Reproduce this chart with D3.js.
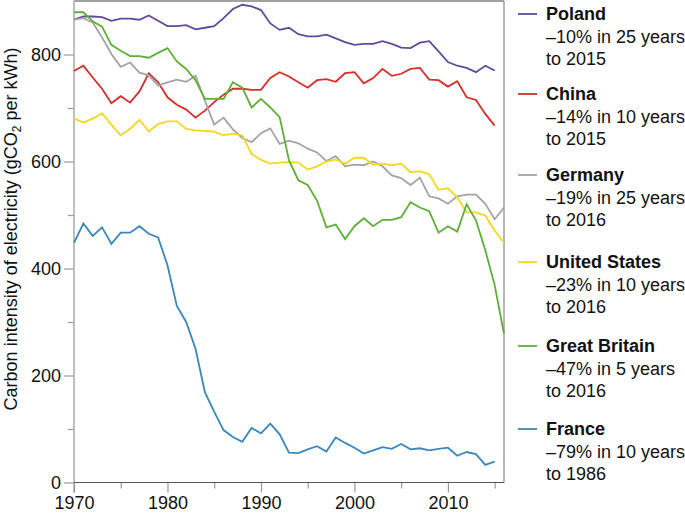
<!DOCTYPE html>
<html>
<head>
<meta charset="utf-8">
<script src="https://cdn.jsdelivr.net/npm/d3@7"></script>
<style>
  html, body { margin: 0; padding: 0; background: #fff; }
  svg { display: block; font-family: "Liberation Sans", Arial, Helvetica, sans-serif; }
</style>
</head>
<body>
<div id="chart"></div>
<script>
'use strict';

// years 1970..2016
const years = [1970, 1971, 1972, 1973, 1974, 1975, 1976, 1977, 1978, 1979,
    1980, 1981, 1982, 1983, 1984, 1985, 1986, 1987, 1988, 1989,
    1990, 1991, 1992, 1993, 1994, 1995, 1996, 1997, 1998, 1999,
    2000, 2001, 2002, 2003, 2004, 2005, 2006, 2007, 2008, 2009,
    2010, 2011, 2012, 2013, 2014, 2015, 2016];

// gCO2 per kWh
const poland = [865, 871, 871, 870, 863, 867, 867, 865, 873, 863,
    853, 853, 855, 847, 850, 853, 868, 885, 893, 890,
    883, 858, 846, 850, 838, 834, 834, 837, 830, 823,
    818, 820, 820, 825, 820, 813, 812, 822, 825, 806,
    786, 779, 775, 767, 779, 770];
const china = [769, 779, 757, 736, 709, 722, 710, 731, 765, 748,
    720, 706, 697, 682, 695, 711, 725, 736, 736, 734,
    734, 756, 767, 759, 748, 738, 752, 754, 749, 765,
    767, 746, 756, 773, 760, 764, 773, 775, 753, 752,
    740, 750, 720, 715, 689, 667];
const germany = [865, 868, 860, 832, 801, 777, 785, 766, 761, 742,
    748, 753, 749, 760, 714, 669, 682, 660, 644, 636,
    653, 662, 633, 639, 634, 624, 617, 601, 610, 591,
    594, 593, 600, 591, 574, 569, 556, 570, 535, 531,
    521, 535, 538, 538, 521, 492, 514];
const unitedStates = [680, 673, 680, 690, 669, 649, 661, 678, 656, 670,
    675, 675, 661, 658, 657, 656, 649, 652, 649, 614,
    603, 596, 598, 599, 598, 585, 591, 600, 604, 596,
    607, 607, 594, 596, 593, 596, 580, 582, 576, 547,
    550, 533, 505, 505, 499, 471, 448];
const greatBritain = [879, 879, 862, 852, 818, 807, 797, 797, 794, 803,
    812, 787, 773, 752, 717, 717, 717, 748, 738, 701,
    717, 701, 683, 602, 565, 556, 527, 477, 482, 455,
    479, 494, 479, 491, 491, 496, 524, 514, 507, 467,
    479, 469, 520, 490, 434, 369, 278];
const france = [448, 484, 461, 477, 446, 467, 467, 479, 465, 458,
    406, 330, 300, 250, 169, 132, 98, 85, 76, 102,
    92, 110, 90, 56, 55, 62, 68, 58, 84, 74,
    65, 54, 60, 66, 63, 72, 62, 64, 60, 63,
    65, 50, 57, 53, 33, 39];

const countries = ['Poland', 'China', 'Germany', 'United States', 'Great Britain', 'France'];
const changeLabels = ['\u201310% in 25 years', '\u201314% in 10 years', '\u201319% in 25 years',
    '\u201323% in 10 years', '\u201347% in 5 years', '\u201379% in 10 years'];
const endLabels = ['to 2015', 'to 2015', 'to 2016', 'to 2016', 'to 2016', 'to 1986'];

const yTicks = [0, 200, 400, 600, 800];
const xTicks = [1970, 1980, 1990, 2000, 2010];

// styling / layout
const colours = ['#5f4b9b', '#d92d2a', '#a3a3a3', '#f3d81f', '#5fae36', '#3a86c1'];
const legendRows = [14, 94, 175, 262, 346, 429];

const width = 685, height = 513;
const margin = { left: 74, right: 181, top: 1, bottom: 30 };
const innerW = width - margin.left - margin.right;
const innerH = 482.5 - margin.top;

const seriesValues = [poland, china, germany, unitedStates, greatBritain, france];

const svg = d3.select('#chart').append('svg')
    .attr('width', width)
    .attr('height', height);

const x = d3.scaleLinear().domain([1970, 2016]).range([0, innerW]);
const y = d3.scaleLinear().domain([0, 900]).range([innerH, 0]);

const g = svg.append('g')
    .attr('transform', `translate(${margin.left},${margin.top})`);

// frame: top + right
g.append('line')
    .attr('x1', 0).attr('x2', innerW).attr('y1', 0).attr('y2', 0)
    .attr('stroke', '#444').attr('stroke-width', 1.2);
g.append('line')
    .attr('x1', innerW).attr('x2', innerW).attr('y1', 0).attr('y2', innerH)
    .attr('stroke', '#888').attr('stroke-width', 1.2);

// y axis
const yMinor = g.append('g').call(d3.axisLeft(y).tickValues([100, 300, 500, 700]).tickSize(6).tickFormat(''));
yMinor.select('.domain').remove();
yMinor.selectAll('.tick line').attr('stroke', '#999').attr('stroke-width', 1.2);

const yAxis = g.append('g').call(d3.axisLeft(y).tickValues(yTicks).tickSize(10).tickPadding(3));
yAxis.select('.domain').remove();
yAxis.selectAll('.tick line').attr('stroke', '#999').attr('stroke-width', 1.2);
yAxis.selectAll('.tick text').attr('fill', '#111').style('font-size', '18px');

g.append('line')
    .attr('x1', 0).attr('x2', 0).attr('y1', 0).attr('y2', innerH + 10)
    .attr('stroke', '#aaa').attr('stroke-width', 1.5);

// x axis
const xMinor = g.append('g')
    .attr('transform', `translate(0,${innerH})`)
    .call(d3.axisBottom(x).tickValues([1975, 1985, 1995, 2005, 2015]).tickSize(6).tickFormat(''));
xMinor.select('.domain').remove();
xMinor.selectAll('.tick line').attr('stroke', '#999').attr('stroke-width', 1.2);

const xAxis = g.append('g')
    .attr('transform', `translate(0,${innerH})`)
    .call(d3.axisBottom(x).tickValues(xTicks).tickSize(10).tickPadding(4).tickFormat(d3.format('d')));
xAxis.select('.domain').remove();
xAxis.selectAll('.tick line').attr('stroke', '#999').attr('stroke-width', 1.2);
xAxis.selectAll('.tick text').attr('fill', '#111').style('font-size', '18px');

g.append('line')
    .attr('x1', 0).attr('x2', innerW).attr('y1', innerH).attr('y2', innerH)
    .attr('stroke', '#555').attr('stroke-width', 1.2);

// y title
const yTitle = svg.append('text')
    .attr('transform', 'translate(17,229) rotate(-90)')
    .attr('text-anchor', 'middle')
    .attr('fill', '#111')
    .style('font-size', '18px');
yTitle.append('tspan').text('Carbon intensity of electricity (gCO');
yTitle.append('tspan').attr('dy', 4).style('font-size', '12px').text('2');
yTitle.append('tspan').attr('dy', -4).text(' per kWh)');

// lines
const line = d3.line()
    .x(d => x(d.year))
    .y(d => y(d.value));

seriesValues.forEach((vals, i) => {
    const pts = vals.map((v, k) => ({ year: years[k], value: v }));
    g.append('path')
        .datum(pts)
        .attr('fill', 'none')
        .attr('stroke', colours[i])
        .attr('stroke-width', 1.8)
        .attr('stroke-linejoin', 'miter')
        .attr('d', line);
});

// legend
const legend = svg.append('g');
countries.forEach((name, i) => {
    const cy = legendRows[i];
    legend.append('line')
        .attr('x1', 518).attr('x2', 537)
        .attr('y1', cy).attr('y2', cy)
        .attr('stroke', colours[i]).attr('stroke-width', 1.8);

    const t = legend.append('text')
        .attr('x', 546)
        .attr('y', cy)
        .attr('fill', '#111')
        .style('font-size', '18px');
    t.append('tspan').attr('x', 546).attr('dy', '0.35em')
        .style('font-weight', 'bold').text(name);
    t.append('tspan').attr('x', 546).attr('dy', 22.4).text(changeLabels[i]);
    t.append('tspan').attr('x', 546).attr('dy', 22.4).text(endLabels[i]);
});
</script>
</body>
</html>
